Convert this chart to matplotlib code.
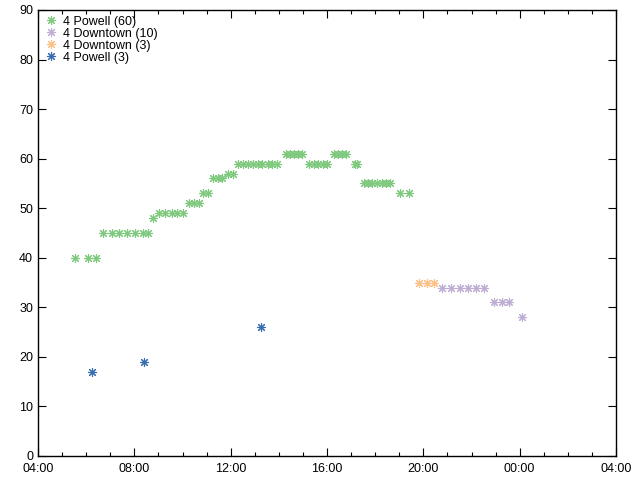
import pandas as pd
import matplotlib
matplotlib.use("Agg")
import matplotlib.pyplot as plt
import matplotlib.dates as mdates

plt.rcParams['font.family'] = ['Liberation Sans', 'DejaVu Sans']

# departure time (HH:MM) and trip time (minutes)
powell60_t = ["05:32", "06:05", "06:25",
              "06:43", "07:04", "07:23", "07:42", "08:02", "08:21", "08:35",
              "08:47",
              "09:02", "09:17", "09:33", "09:47", "10:02",
              "10:16", "10:29", "10:42",
              "10:52", "11:04",
              "11:17", "11:29", "11:39",
              "11:54", "12:05",
              "12:18", "12:30", "12:42", "12:55", "13:07", "13:19", "13:32", "13:44", "13:56",
              "14:18", "14:28", "14:38", "14:48", "14:58",
              "15:16", "15:27", "15:38", "15:49", "16:00",
              "16:17", "16:27", "16:38", "16:48",
              "17:09", "17:15",
              "17:31", "17:42", "17:53", "18:05", "18:16", "18:27", "18:38",
              "19:02", "19:25"]
powell60_v = [40, 40, 40,
              45, 45, 45, 45, 45, 45, 45,
              48,
              49, 49, 49, 49, 49,
              51, 51, 51,
              53, 53,
              56, 56, 56,
              57, 57,
              59, 59, 59, 59, 59, 59, 59, 59, 59,
              61, 61, 61, 61, 61,
              59, 59, 59, 59, 59,
              61, 61, 61, 61,
              59, 59,
              55, 55, 55, 55, 55, 55, 55,
              53, 53]

downtown10_t = ["20:47", "21:08", "21:31", "21:52", "22:11", "22:32",
                "22:55", "23:15", "23:34", "00:05"]
downtown10_v = [34, 34, 34, 34, 34, 34, 31, 31, 31, 28]

downtown3_t = ["19:48", "20:08", "20:27"]
downtown3_v = [35, 35, 35]

powell3_t = ["06:14", "08:25", "13:16"]
powell3_v = [17, 19, 26]

labels = ["4 Powell (60)", "4 Downtown (10)", "4 Downtown (3)", "4 Powell (3)"]
colors = ["#7fc97f", "#beaed4", "#fdc086", "#386cb0"]


def to_time(hhmm):
    t = pd.to_datetime("2000-01-01 " + pd.Series(hhmm))
    return t + pd.to_timedelta((t.dt.hour < 4).astype(int), unit="D")


fig = plt.figure(figsize=(6.4, 4.8), dpi=100)
ax = fig.add_axes([38 / 640, 24 / 480, 578 / 640, 446 / 480])

series = [(powell60_t, powell60_v), (downtown10_t, downtown10_v),
          (downtown3_t, downtown3_v), (powell3_t, powell3_v)]
for (tt, vv), lab, c in zip(series, labels, colors):
    ax.plot(to_time(tt), vv, linestyle="none", marker=(8, 2, 0),
            markersize=6.5, markeredgewidth=0.8, color=c, label=lab)

ax.set_xlim(pd.Timestamp("2000-01-01 04:00"), pd.Timestamp("2000-01-02 04:00"))
ax.set_ylim(0, 90)
ax.set_yticks(range(0, 91, 10))
ax.xaxis.set_major_locator(mdates.HourLocator(byhour=[0, 4, 8, 12, 16, 20]))
ax.xaxis.set_minor_locator(mdates.HourLocator())
ax.xaxis.set_major_formatter(mdates.DateFormatter("%H:%M"))

ax.tick_params(which="both", direction="in", top=True, right=True,
               labelsize=9, colors="black")
ax.tick_params(axis="x", which="major", pad=5)
ax.tick_params(which="major", length=6, width=0.8)
ax.tick_params(which="minor", length=3, width=0.8)
for s in ax.spines.values():
    s.set_linewidth(1)

ax.legend(loc="upper left", bbox_to_anchor=(0.01, 0.99), frameon=False,
          fontsize=9, borderaxespad=0, borderpad=0.1, handlelength=1,
          handletextpad=0.4, labelspacing=0.0)

fig.savefig("out.png", dpi=100)
